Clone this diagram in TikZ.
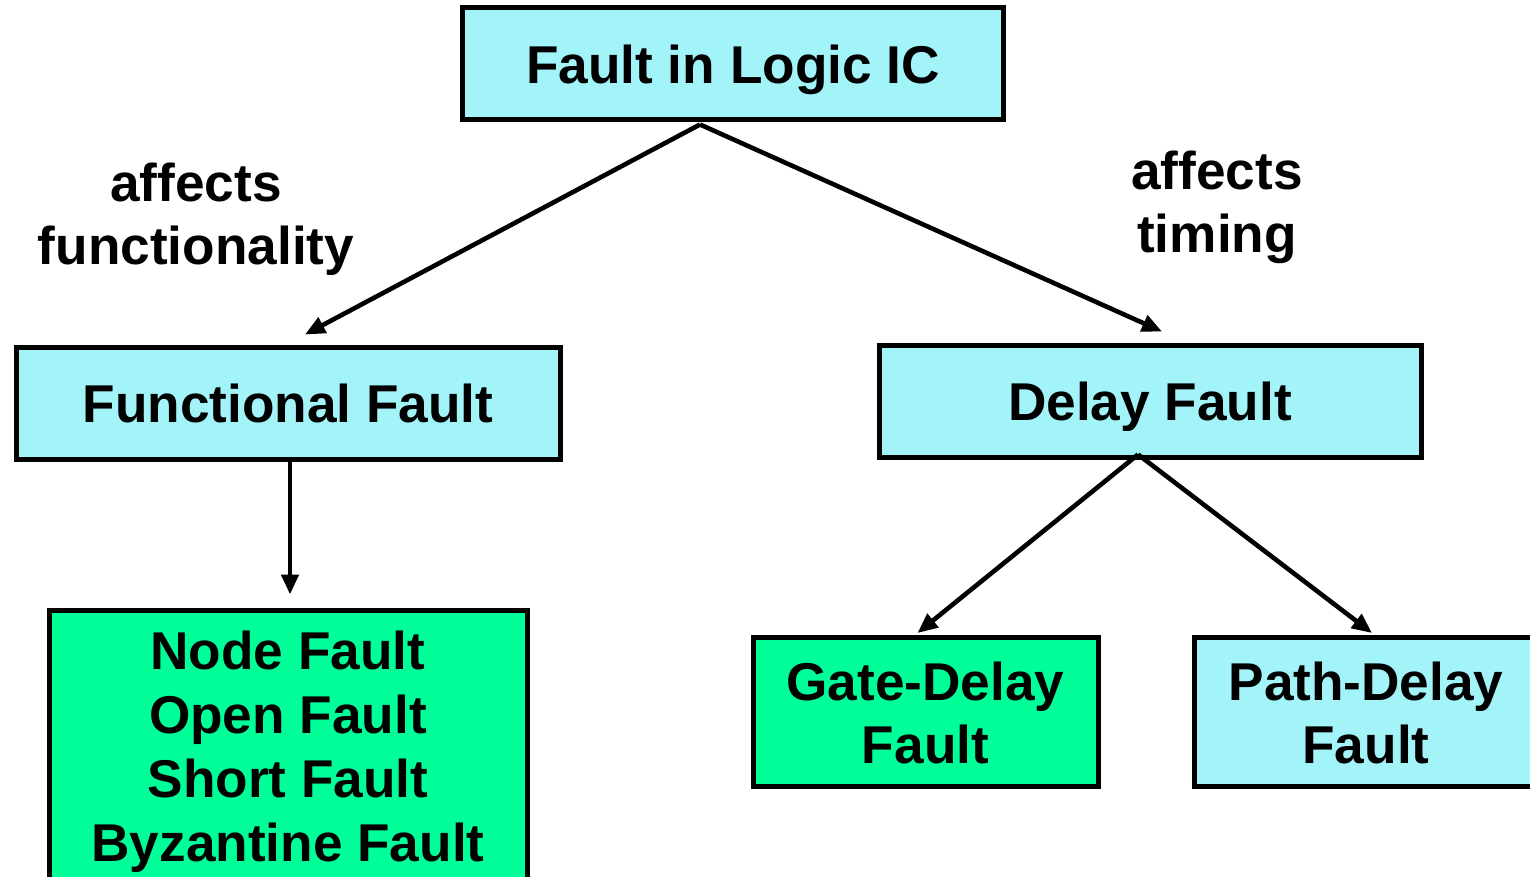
\documentclass[tikz,border=0pt]{standalone}
\usepackage{fontspec}
\setmainfont{Liberation Sans}
\usetikzlibrary{arrows.meta,calc}
\definecolor{boxcyan}{RGB}{163,244,248}
\definecolor{boxgreen}{RGB}{0,255,153}
% invisible struts so that one-line box text is centred on its capitals
\newcommand\capstop{\rule{0pt}{25.05pt}}
\newcommand\capsbot{\rule[-6pt]{0pt}{6pt}}
% stacked lines, lowered a little inside their box
\newcommand\boxlines[2]{\raisebox{#1}[\height][\depth]{\begin{tabular}{@{}c@{}}#2\end{tabular}}}
\begin{document}
\begin{tikzpicture}[x=0.5pt,y=-0.5pt,
  box/.style={draw=black,line width=2.5pt,inner sep=0pt,align=center,
    font=\fontsize{26.6}{32}\selectfont\bfseries},
  oneline/.style={execute at begin node=\capstop, execute at end node=\capsbot},
  cyanbox/.style={box,fill=boxcyan},
  greenbox/.style={box,fill=boxgreen},
  twoline/.style={font=\fontsize{26.6}{31.5}\selectfont\bfseries},
  link/.style={line width=2.3pt,-{Triangle[length=10pt,width=8.5pt]}},
  note/.style={inner sep=0pt,font=\fontsize{26.6}{31.5}\selectfont\bfseries}]
\useasboundingbox (0,0) rectangle (1530,877);
\clip (0,0) rectangle (1530,877);

% boxes
\node[cyanbox, oneline, minimum width=270.5pt, minimum height=56pt] (root) at (733,64) {Fault in Logic IC};
\node[cyanbox, oneline, minimum width=272pt, minimum height=56pt] (func) at (288,403) {Functional Fault};
\node[cyanbox, oneline, minimum width=271pt, minimum height=56pt] (delay) at (1150,401) {Delay Fault};
\node[greenbox, minimum width=239pt, minimum height=136pt] (phys) at (288,746)
  {\boxlines{-3.1pt}{Node Fault\\Open Fault\\Short Fault\\Byzantine Fault}};
\node[greenbox, twoline, minimum width=172.5pt, minimum height=74.5pt] (gate) at (925.5,712)
  {\boxlines{-3.7pt}{Gate-Delay\\Fault}};
\node[cyanbox, twoline, minimum width=172pt, minimum height=74.5pt] (path) at (1366,712)
  {\boxlines{-3.7pt}{Path-Delay\\Fault}};

% branch labels
\node[note] (lfunc) at (196,214) {\boxlines{-3.2pt}{affects\\functionality}};
\node[note] (ltime) at (1217,202) {\boxlines{-3.2pt}{affects\\timing}};

% connector ends
\coordinate (rootout) at ($(root.south)+(-33,2)$);
\coordinate (funcin) at ($(func.north)+(17,-10)$);
\coordinate (delayin) at ($(delay.north)+(12,-11)$);
\coordinate (funcout) at ($(func.south)+(2,0)$);
\coordinate (physin) at ($(phys.north)+(2,-13)$);
\coordinate (delayout) at ($(delay.south)+(-12,-5)$);
\coordinate (gatein) at ($(gate.north)+(-8,-2)$);
\coordinate (pathin) at ($(path.north)+(6,-2)$);

% connectors
\draw[link] (rootout) -- (funcin);
\draw[link] (rootout) -- (delayin);
\draw[link] (funcout) -- (physin);
\draw[link] (delayout) -- (gatein);
\draw[link] (delayout) -- (pathin);
\end{tikzpicture}
\end{document}
